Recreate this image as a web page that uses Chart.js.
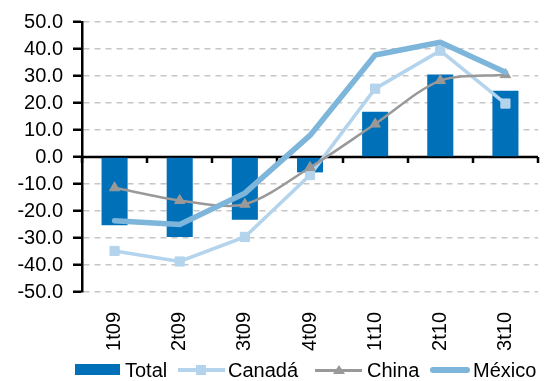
<!DOCTYPE html>
<html>
<head>
<meta charset="utf-8">
<script src="https://cdn.jsdelivr.net/npm/chart.js@4.4.1/dist/chart.umd.min.js"></script>
<style>
    body { margin: 0; background: #fff; }
    #wrap { position: relative; width: 548px; height: 381px; font-family: "Liberation Sans", Arial, sans-serif; }
    #legend { position: absolute; left: 0; top: 359px; width: 548px; height: 22px; font-size: 20px; color: #000; }
    .item { position: absolute; top: 0; height: 22px; line-height: 22px; white-space: nowrap; }
    .icon { position: relative; display: inline-block; vertical-align: top; height: 22px; }
    .box { position: absolute; left: 0; top: 5px; width: 45px; height: 11px; background: #0070b8; }
    .ln { position: absolute; left: 0; right: 0; }
    .sq { position: absolute; left: 18px; top: 6px; width: 10px; height: 10px; background: #b3d4ec; }
    .tri { position: absolute; left: 18px; top: 6px; width: 0; height: 0; border-left: 6px solid transparent; border-right: 6px solid transparent; border-bottom: 9px solid #999; }
</style>
</head>
<body>
<div id="wrap">
    <canvas id="chart" width="548" height="381"></canvas>
    <div id="legend">
        <div class="item" style="left:75px"><span class="icon" style="width:50px"><span class="box"></span></span>Total</div>
        <div class="item" style="left:178px"><span class="icon" style="width:50px"><span class="ln" style="top:9px;height:4px;background:#b3d4ec;width:47px"></span><span class="sq"></span></span>Canadá</div>
        <div class="item" style="left:315px"><span class="icon" style="width:52px"><span class="ln" style="top:10px;height:3px;background:#999;width:47px"></span><span class="tri"></span></span>China</div>
        <div class="item" style="left:430px"><span class="icon" style="width:43px"><span class="ln" style="top:8px;height:6px;border-radius:3px;background:#7eb6db;width:40px"></span></span>México</div>
    </div>
</div>
<script>
const categories = ['1t09', '2t09', '3t09', '4t09', '1t10', '2t10', '3t10'];
const total = [-25.3, -29.6, -23.2, -5.7, 16.8, 30.6, 24.5];
const canada = [-34.8, -38.7, -29.6, -6.7, 25.3, 39.4, 19.8];
const china = [-11.4, -16.1, -17.5, -3.9, 12.2, 28.3, 30.5];
const mexico = [-23.6, -25.0, -13.4, 8.0, 37.8, 42.5, 31.4];
const yTicks = [-50, -40, -30, -20, -10, 0, 10, 20, 30, 40, 50];

const FONT = { family: '"Liberation Sans", Arial, sans-serif', size: 20 };

// black axis line through zero with small tick marks between categories
const zeroAxis = {
    id: 'zeroAxis',
    beforeDatasetsDraw(chart) {
        const { ctx, chartArea, scales: { x, y } } = chart;
        const y0 = y.getPixelForValue(0);
        ctx.save();
        ctx.strokeStyle = '#000';
        ctx.lineWidth = 2.5;
        ctx.beginPath();
        ctx.moveTo(chartArea.left, y0);
        ctx.lineTo(chartArea.right, y0);
        for (let i = 0; i <= categories.length; i++) {
            const px = Math.round(x.getPixelForValue(i - 0.5));
            ctx.moveTo(px, y0);
            ctx.lineTo(px, y0 + 6);
        }
        ctx.stroke();
        ctx.restore();
    }
};

new Chart(document.getElementById('chart'), {
    data: {
        labels: categories,
        datasets: [
            {
                type: 'line', label: 'México', data: mexico, order: 1,
                borderColor: '#7eb6db', borderWidth: 5.5, pointRadius: 0,
                borderCapStyle: 'round', borderJoinStyle: 'round', tension: 0
            },
            {
                type: 'line', label: 'China', data: china, order: 2,
                borderColor: '#999999', borderWidth: 2.5, tension: 0.3,
                pointStyle: 'triangle', pointRadius: 6, pointBackgroundColor: '#999999', pointBorderColor: '#999999', pointBorderWidth: 1
            },
            {
                type: 'line', label: 'Canadá', data: canada, order: 3,
                borderColor: '#b3d4ec', borderWidth: 3.5, tension: 0,
                pointStyle: 'rect', pointRadius: 6.5, pointBackgroundColor: '#b3d4ec', pointBorderColor: '#b3d4ec', pointBorderWidth: 1
            },
            {
                type: 'bar', label: 'Total', data: total, order: 4,
                backgroundColor: '#0070b8', barPercentage: 0.4, categoryPercentage: 1
            }
        ]
    },
    options: {
        responsive: false,
        animation: false,
        layout: { padding: { top: 19, right: 10, bottom: 30, left: 0 } },
        plugins: { legend: { display: false }, tooltip: { enabled: false } },
        scales: {
            x: {
                offset: true,
                grid: { display: false },
                border: { display: false },
                ticks: { color: '#000', font: FONT, minRotation: 90, maxRotation: 90, padding: 12, autoSkip: false },
                afterFit(scale) { scale.height = 59; }
            },
            y: {
                min: -50, max: 50,
                afterBuildTicks(scale) { scale.ticks = yTicks.map(v => ({ value: v })); },
                grid: {
                    color: (c) => c.tick && c.tick.value === 0 ? 'rgba(0,0,0,0)' : '#c6c6c6',
                    lineWidth: 1.5,
                    tickColor: '#000', tickLength: 9, tickWidth: 2.5, tickBorderDash: []
                },
                border: { display: true, color: '#000', width: 2.5, dash: [6, 5] },
                ticks: { color: '#000', font: FONT, padding: 10, callback: (v) => v.toFixed(1) },
                afterFit(scale) { scale.width = 82; }
            }
        }
    },
    plugins: [zeroAxis]
});
</script>
</body>
</html>
